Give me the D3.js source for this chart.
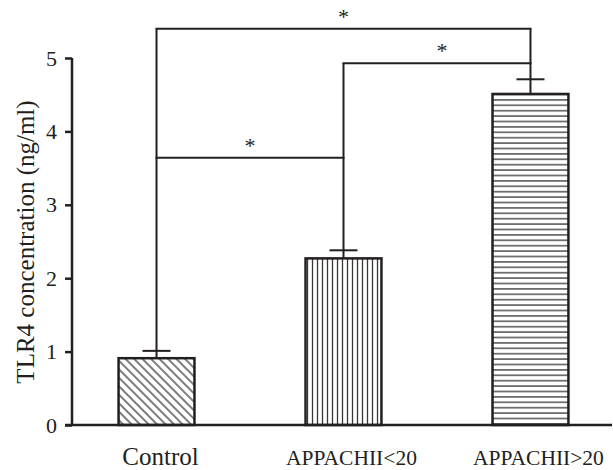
<!DOCTYPE html>
<html>
<head>
<meta charset="utf-8">
<script src="https://cdn.jsdelivr.net/npm/d3@7/dist/d3.min.js"></script>
<style>
html,body{margin:0;padding:0;background:#fff;}
svg{display:block;}
text{font-family:"Liberation Serif","Times New Roman",serif;fill:#231f20;}
</style>
</head>
<body>
<svg id="chart" width="613" height="470"></svg>
<script>
const categories = ["Control", "APPACHII<20", "APPACHII>20"];
const means = [0.91, 2.27, 4.51];
const errors = [0.10, 0.11, 0.20];
const patterns = ["diag", "vert", "horiz"];
const yTicks = [0, 1, 2, 3, 4, 5];
const yLabel = "TLR4 concentration (ng/ml)";
const bracketFrom = [0, 1, 0];
const bracketTo = [2, 2, 1];
const bracketLevel = [5.40, 4.93, 3.64];
const bracketMark = ["*", "*", "*"];

const svg = d3.select("#chart");
const ink = "#231f20";

const x = d3.scaleBand().domain(categories).range([75, 612]).paddingInner(0.594).paddingOuter(0.233);
const y = d3.scaleLinear().domain([0, 5]).range([425, 58]);

// patterns
const defs = svg.append("defs");
const p1 = defs.append("pattern").attr("id", "diag").attr("patternUnits", "userSpaceOnUse")
  .attr("width", 6).attr("height", 6).attr("patternTransform", "rotate(45)");
p1.append("line").attr("x1", 0).attr("y1", 3).attr("x2", 6).attr("y2", 3).attr("stroke", "#3a3637").attr("stroke-width", 1.3);
const p2 = defs.append("pattern").attr("id", "vert").attr("patternUnits", "userSpaceOnUse")
  .attr("width", 5).attr("height", 5);
p2.append("line").attr("x1", 2.5).attr("y1", 0).attr("x2", 2.5).attr("y2", 5).attr("stroke", "#3a3637").attr("stroke-width", 1.3);
const p3 = defs.append("pattern").attr("id", "horiz").attr("patternUnits", "userSpaceOnUse")
  .attr("width", 5.4).attr("height", 5.4);
p3.append("line").attr("x1", 0).attr("y1", 2.7).attr("x2", 5.4).attr("y2", 2.7).attr("stroke", "#3a3637").attr("stroke-width", 1.3);

// bars
categories.forEach((c, i) => {
  svg.append("rect")
    .attr("x", x(c)).attr("y", y(means[i]))
    .attr("width", x.bandwidth()).attr("height", y(0) - y(means[i]))
    .attr("fill", "url(#" + patterns[i] + ")")
    .attr("stroke", ink).attr("stroke-width", 2.5);
});

// vertical connector lines + error caps
const cx = c => x(c) + x.bandwidth() / 2;
categories.forEach((c, i) => {
  let top = means[i] + errors[i];
  bracketLevel.forEach((lv, k) => {
    if (bracketFrom[k] === i || bracketTo[k] === i) top = Math.max(top, lv);
  });
  svg.append("line").attr("x1", cx(c)).attr("x2", cx(c))
    .attr("y1", y(means[i])).attr("y2", y(top))
    .attr("stroke", ink).attr("stroke-width", 2);
  svg.append("line").attr("x1", cx(c) - 14).attr("x2", cx(c) + 14)
    .attr("y1", y(means[i] + errors[i])).attr("y2", y(means[i] + errors[i]))
    .attr("stroke", ink).attr("stroke-width", 2);
});

// brackets
bracketLevel.forEach((lv, k) => {
  const a = cx(categories[bracketFrom[k]]), b = cx(categories[bracketTo[k]]);
  svg.append("line").attr("x1", a - 1).attr("x2", b + 1).attr("y1", y(lv)).attr("y2", y(lv))
    .attr("stroke", ink).attr("stroke-width", 2);
  svg.append("text").attr("x", (a + b) / 2 + (k === 1 ? 5 : 0)).attr("y", y(lv) - 5)
    .attr("text-anchor", "middle").attr("font-size", 22).text(bracketMark[k]);
});

// y axis
const yAxis = d3.axisLeft(y).tickValues(yTicks).tickSize(7).tickPadding(8).tickFormat(d3.format("d"));
const gy = svg.append("g").attr("transform", "translate(72,0)").call(yAxis);
gy.select(".domain").attr("stroke", ink).attr("stroke-width", 2.5).attr("d", "M0," + y(5) + "V" + y(0));
gy.selectAll(".tick line").attr("stroke", ink).attr("stroke-width", 2.5);
gy.selectAll(".tick text").attr("font-size", 22).attr("font-family", "Liberation Serif").attr("fill", "#3a3637");

// baseline
svg.append("line").attr("x1", 65).attr("x2", 612).attr("y1", y(0)).attr("y2", y(0))
  .attr("stroke", ink).attr("stroke-width", 2.5);

// category labels
categories.forEach((c, i) => {
  svg.append("text").attr("x", cx(c) + (i === 0 ? 4 : 8)).attr("y", 465)
    .attr("text-anchor", "middle").attr("font-size", i === 0 ? 25 : 21.5).text(c);
});

// y label
svg.append("text").attr("transform", "translate(34,242) rotate(-90)")
  .attr("text-anchor", "middle").attr("font-size", 25).text(yLabel);
</script>
</body>
</html>
